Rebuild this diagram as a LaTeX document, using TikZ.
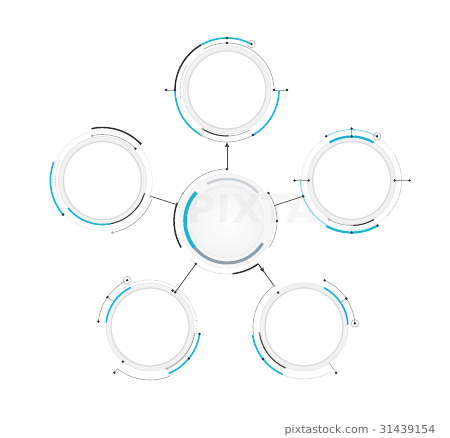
\documentclass[tikz,border=0pt]{standalone}
\usepackage{fontspec}
\newfontfamily\stockfont{DejaVu Sans}
\usepackage{tikz}
\usetikzlibrary{arrows.meta}
\usetikzlibrary{positioning}
\usetikzlibrary{calc}

\definecolor{techcyan}{HTML}{1CB4D2}
\definecolor{steelgray}{HTML}{8C9CA8}
\definecolor{palesteel}{HTML}{C9D1D8}

\tikzset{
  disc/.style={circle, inner sep=0pt, outer sep=0pt, minimum size=88pt,
    fill=gray!10, draw=gray!22, line width=0.6pt},
  innerdisc/.style={circle, inner sep=0pt, outer sep=0pt, minimum size=78pt,
    fill=white, draw=gray!30, line width=1.2pt},
  cyanarc/.style={draw=techcyan, line width=1.6pt},
  thincyan/.style={draw=techcyan!65, line width=0.7pt},
  blackarc/.style={draw=black!85, line width=1.4pt},
  grayarc/.style={draw=gray!75, line width=0.6pt},
  lightarc/.style={draw=gray!35, line width=0.8pt},
  dotarc/.style={draw=gray!60, line width=0.6pt, densely dotted},
  link/.style={draw=black!75, line width=0.7pt},
}

% arc round a centre: centre, radius, start, end, style
\newcommand{\darc}[5]{\draw[#5] ($(#1)+(#3:#2pt)$) arc[start angle=#3, end angle=#4, radius=#2pt];}
% small dot: centre, angle, radius
\newcommand{\tdot}[3]{\fill[black!85] ($(#1)+(#2:#3pt)$) circle (1.3pt);}
\newcommand{\gdot}[3]{\fill[gray!60] ($(#1)+(#2:#3pt)$) circle (1.5pt);}
% ringed dot: centre, angle, radius
\newcommand{\tring}[3]{\draw[gray!70, line width=0.5pt] ($(#1)+(#2:#3pt)$) circle (3.8pt);
  \fill[black!85] ($(#1)+(#2:#3pt)$) circle (1.3pt);}
% radial tick: centre, angle, inner, outer
\newcommand{\ttick}[4]{\draw[grayarc] ($(#1)+(#2:#3pt)$) -- ($(#1)+(#2:#4pt)$);}

\begin{document}
\begin{tikzpicture}[x=1pt,y=1pt]
    \fill[white] (0,0) rectangle (450,438);
    \useasboundingbox (0,0) rectangle (450,438);

    % Centre disc
    \node[disc, minimum size=94pt, fill=gray!6, draw=gray!15] (C) at (227,217) {};
    \darc{C}{42}{137}{220}{draw=techcyan, line width=3.6pt}
    \darc{C}{42}{220}{328}{draw=steelgray, line width=3pt}
    \darc{C}{42}{42}{118}{draw=palesteel, line width=2.5pt}
    \node[circle, inner sep=0pt, minimum size=74pt, inner color=white,
      outer color=gray!9, draw=gray!18] (C-in) at (C) {};
    \darc{C}{35}{45}{125}{draw=gray!40, line width=0.5pt, densely dotted}

    % Outer discs
    \foreach \name/\ang in {T/90, R/18, BR/306, BL/234, L/162} {
        \node[disc] (\name) at ($(C)+(\ang:131pt)$) {};
        \node[innerdisc] (\name-in) at (\name) {};
    }

    % Centre rim
    \darc{C}{52}{90}{160}{grayarc}
    \darc{C}{53}{160}{210}{blackarc}
    \darc{C}{53}{228}{276}{dotarc}
    \darc{C}{53}{276}{306}{blackarc}
    \darc{C}{50}{-32}{34}{grayarc}
    \tdot{C}{90}{52} \tdot{C}{34}{50} \tdot{C}{0}{50} \gdot{C}{148}{52}

    % Top
    \darc{T}{52}{62}{120}{cyanarc}
    \darc{T}{52}{120}{180}{blackarc}
    \darc{T}{52}{180}{240}{cyanarc}
    \darc{T}{52}{240}{300}{grayarc}
    \darc{T}{52}{300}{359}{cyanarc}
    \darc{T}{47}{0}{120}{grayarc}
    \darc{T}{47}{148}{192}{lightarc}
    \darc{T}{46}{238}{300}{grayarc}
    \darc{T}{46}{238}{272}{draw=black!80, line width=1pt}
    \ttick{T}{0}{47}{60} \ttick{T}{180}{52}{61}
    \tdot{T}{0}{47} \tdot{T}{0}{60} \tdot{T}{180}{52} \tdot{T}{180}{61}
    \tdot{T}{90}{52} \tdot{T}{90}{47} \tdot{T}{300}{52}
    \gdot{T}{240}{52} \gdot{T}{238}{46}
    \tring{T}{62}{52}

    % Left
    \darc{L}{50}{0}{360}{draw=gray!15, line width=0.6pt}
    \darc{L}{53}{44}{102}{blackarc}
    \darc{L}{46}{44}{103}{grayarc}
    \darc{L}{52}{160}{221}{cyanarc}
    \darc{L}{47}{155}{200}{dotarc}
    \darc{L}{44}{219}{281}{cyanarc}
    \darc{L}{44}{281}{343}{draw=black!80, line width=1pt}
    \darc{L}{53}{281}{340}{grayarc}
    \tdot{L}{44}{53} \tdot{L}{44}{46} \gdot{L}{103}{46}
    \gdot{L}{160}{52} \tdot{L}{221}{52} \gdot{L}{281}{53}

    % Right
    \darc{R}{50}{0}{360}{draw=gray!15, line width=0.6pt}
    \darc{R}{51}{60}{120}{thincyan}
    \darc{R}{44}{60}{120}{draw=techcyan, line width=2.2pt}
    \darc{R}{51}{180}{241}{thincyan}
    \darc{R}{52}{241}{300}{draw=techcyan, line width=2.2pt}
    \darc{R}{45}{240}{300}{grayarc}
    \darc{R}{45}{272}{300}{draw=black!80, line width=1pt}
    \darc{R}{50}{-45}{30}{dotarc}
    \ttick{R}{90}{44}{52} \ttick{R}{180}{43}{57} \ttick{R}{0}{43}{58}
    \tdot{R}{90}{44} \tdot{R}{90}{52} \tdot{R}{120}{51}
    \tdot{R}{180}{43} \gdot{R}{180}{51} \tdot{R}{180}{57}
    \tdot{R}{0}{43} \tdot{R}{0}{58}
    \tdot{R}{270}{52} \tdot{R}{300}{52} \gdot{R}{240}{45}
    \tring{R}{60}{51}

    % Bottom left
    \darc{BL}{47}{-10}{125}{dotarc}
    \darc{BL}{44}{116}{174}{cyanarc}
    \darc{BL}{52}{116}{174}{grayarc}
    \darc{BL}{50}{292}{352}{cyanarc}
    \darc{BL}{45}{292}{352}{draw=gray!80, line width=0.8pt}
    \darc{BL}{53}{232}{292}{grayarc}
    \ttick{BL}{145}{46}{52} \ttick{BL}{232}{53}{58}
    \tdot{BL}{145}{52} \tdot{BL}{174}{52} \tdot{BL}{58}{43}
    \tdot{BL}{352}{50} \tdot{BL}{321}{50} \gdot{BL}{292}{45}
    \tdot{BL}{232}{58} \tdot{BL}{232}{44}
    \tring{BL}{116}{52}

    % Bottom right
    \darc{BR}{51}{128}{189}{grayarc}
    \darc{BR}{52}{189}{246}{cyanarc}
    \darc{BR}{45}{188}{246}{draw=black!80, line width=1pt}
    \darc{BR}{52}{246}{300}{dotarc}
    \darc{BR}{44}{3}{63}{cyanarc}
    \darc{BR}{51}{4}{66}{grayarc}
    \ttick{BR}{305}{44}{56} \ttick{BR}{34}{44}{51}
    \tdot{BR}{218}{52} \gdot{BR}{188}{45} \tdot{BR}{305}{56}
    \tdot{BR}{66}{51} \tdot{BR}{34}{51} \tdot{BR}{127}{43}
    \tring{BR}{4}{51}

    % Links
    \coordinate (C-t) at ($(C)+(90:52pt)$);
    \coordinate (C-r) at ($(C)+(18:50pt)$);
    \coordinate (C-br) at ($(C)+(306:53pt)$);
    \coordinate (C-bl) at ($(C)+(234:53pt)$);
    \coordinate (C-l) at ($(C)+(162:52pt)$);
    \coordinate (T-b) at ($(T)+(270:52pt)$);
    \coordinate (R-l) at ($(R)+(198:51pt)$);
    \coordinate (BR-t) at ($(BR)+(126:51pt)$);
    \coordinate (BL-t) at ($(BL)+(54:43pt)$);
    \coordinate (L-r) at ($(L)+(342:51pt)$);
    \draw[link, -{Latex[length=5pt,width=4.5pt]}] (C-t) -- (T-b);
    \draw[link] (C-r) -- (R-l);
    \draw[link] (C-br) -- (BR-t);
    \draw[link, -{Latex[length=5pt,width=4.5pt]}] (C-br) -- ($(C-br)!0.4!(BR-t)$);
    \draw[link] (C-bl) -- (BL-t);
    \draw[link] (C-l) -- (L-r);
    \fill[black!85] (R-l) circle (1.4pt);
    \fill[gray!60] (BR-t) circle (1.6pt);
    \fill[black!85] (C-bl) circle (1.4pt);
    \fill[black!85] (BL-t) circle (1.4pt);
    \fill[gray!60] (L-r) circle (1.6pt);

    % Watermarks
    \node[text=gray, opacity=0.07, font=\stockfont\bfseries\fontsize{40}{44}\selectfont] (mark) at (252,229) {PIXTA};
    \node[anchor=east, text=gray!80!black, font=\stockfont\fontsize{11}{13}\selectfont] (stock) at (439,8) {pixtastock.com - 31439154};
\end{tikzpicture}
\end{document}
